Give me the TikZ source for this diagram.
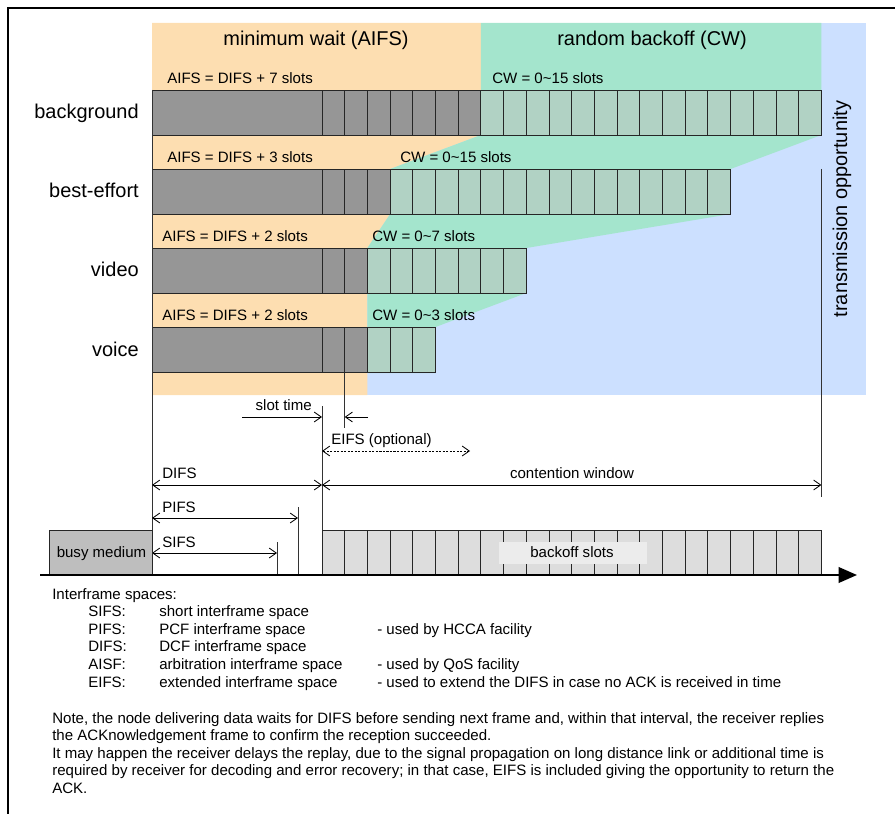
\documentclass[tikz,border=0pt]{standalone}
\usepackage{fontspec}
\setmainfont{Liberation Sans}
\usetikzlibrary{arrows.meta}

\definecolor{waitbg}{RGB}{253,222,177}
\definecolor{cwbg}{RGB}{164,229,205}
\definecolor{txopbg}{RGB}{204,224,255}
\definecolor{aifsslot}{RGB}{150,150,150}
\definecolor{cwslot}{RGB}{177,210,196}
\definecolor{busygray}{RGB}{190,190,190}
\definecolor{idlegray}{RGB}{221,221,221}
\definecolor{boxgray}{RGB}{236,236,236}

\tikzset{
  head/.style={font=\fontsize{14.2}{17}\selectfont, anchor=base, inner sep=0pt},
  rowname/.style={font=\fontsize{14.2}{17}\selectfont, anchor=base east, inner sep=0pt},
  lbl/.style={font=\fontsize{10.7}{13}\selectfont, anchor=base west, inner sep=0pt},
  legend/.style={font=\fontsize{10.7}{12.8}\selectfont, anchor=base west, inner sep=0pt},
  slotline/.style={line width=0.7pt, draw=black!85},
  marker/.style={line width=0.7pt, draw=black!80},
  dim/.style={line width=0.6pt, {Straight Barb[length=5pt,width=7pt]}-{Straight Barb[length=5pt,width=7pt]}},
  half/.style={line width=0.6pt, -{Straight Barb[length=5pt,width=7pt]}}
}

\begin{document}
\begin{tikzpicture}[x=0.025cm, y=-0.025cm] % one unit = one pixel of the original
	\useasboundingbox (0,0) rectangle (895,814);
	
	% slot width and end of DIFS
	\def\s{22.7}
	\def\difs{322}
	\pgfmathsetmacro{\aBg}{\difs+7*\s}
	\pgfmathsetmacro{\aBe}{\difs+3*\s}
	\pgfmathsetmacro{\aVi}{\difs+2*\s}
	\pgfmathsetmacro{\cBg}{\aBg+15*\s}
	\pgfmathsetmacro{\cBe}{\aBe+15*\s}
	\pgfmathsetmacro{\cVi}{\aVi+7*\s}
	\pgfmathsetmacro{\cVo}{\aVi+3*\s}
	
	% frame
	\draw[line width=1.8pt] (8,814) -- (8,8) -- (895,8);
	
	% coloured zones: transmission opportunity, minimum wait, random backoff
	\fill[txopbg] (152,23) rectangle (866,395);
	\fill[waitbg] (152,23) -- (\aBg,23) -- (\aBg,135) -- (\aBe,169) -- (\aBe,214)
		-- (\aVi,248) -- (\aVi,395) -- (152,395) -- cycle;
	\fill[cwbg] (\aBg,23) -- (\cBg,23) -- (\cBg,135) -- (\cBe,169) -- (\cBe,214)
		-- (\cVi,248) -- (\cVi,293) -- (\cVo,327) -- (\cVo,373) -- (\aVi,373)
		-- (\aVi,248) -- (\aBe,214) -- (\aBe,169) -- (\aBg,135) -- cycle;
	
	\node[head] (wait) at (316,46) {minimum wait (AIFS)};
	\node[head] (backoff) at (652,46) {random backoff (CW)};
	
	% one bar per access category
	\foreach \row/\top/\n/\cw/\ax/\cx in {background/90/7/15/167/492, best-effort/169/3/15/167/400,
		video/248/2/7/162/372, voice/327/2/3/162/372}{
		\draw[slotline, fill=aifsslot] (152,\top) rectangle (\difs,\top+45);
		\foreach \i in {1,...,\n}
			\draw[slotline, fill=aifsslot] ({\difs+(\i-1)*\s},\top) rectangle ({\difs+\i*\s},\top+45);
		\foreach \i in {1,...,\cw}
			\draw[slotline, fill=cwslot] ({\difs+(\n+\i-1)*\s},\top) rectangle ({\difs+(\n+\i)*\s},\top+45);
		\node[rowname] (\row) at (139,\top+29) {\row};
		\node[lbl] (aifs-\row) at (\ax,\top-6.5) {AIFS = DIFS + \n{} slots};
		\node[lbl] (cw-\row) at (\cx,\top-6.5) {CW = 0\textasciitilde\cw{} slots};
	}
	
	\node[font=\fontsize{14.2}{17}\selectfont, rotate=90, inner sep=0pt] (txop) at (842,209) {transmission opportunity};
	
	% markers
	\coordinate (difs0) at (152,90);
	\coordinate (difs0b) at (152,575);
	\coordinate (slott) at ({\difs+\s},373);
	\coordinate (slotb) at ({\difs+\s},428);
	\coordinate (difs1) at (\difs,406);
	\coordinate (difs1b) at (\difs,575);
	\coordinate (pifs) at (298,507);
	\coordinate (pifsb) at (298,575);
	\coordinate (sifs) at (277,542);
	\coordinate (sifsb) at (277,575);
	\coordinate (cwend) at (\cBg,169);
	\coordinate (cwendb) at (\cBg,497);
	\foreach \a/\b in {difs0/difs0b, slott/slotb, difs1/difs1b, pifs/pifsb, sifs/sifsb, cwend/cwendb}
		\draw[marker] (\a) -- (\b);
	
	% slot time
	\coordinate (st0) at (242,417);
	\coordinate (st1) at (\difs,417);
	\coordinate (st2) at ({\difs+\s},417);
	\coordinate (st3) at (368,417);
	\draw[half] (st0) -- (st1);
	\draw[half] (st3) -- (st2);
	\node[lbl, anchor=base east] (slottime) at (312,410.5) {slot time};
	
	% EIFS
	\coordinate (eifs0) at (\difs,451);
	\coordinate (eifs1) at (470,451);
	\draw[dim, dash pattern=on 1.5pt off 1pt] (eifs0) -- (eifs1);
	\node[lbl] (eifs) at (331,444.5) {EIFS (optional)};
	
	% DIFS and contention window
	\coordinate (d0) at (152,485);
	\coordinate (d1) at (\difs,485);
	\coordinate (d2) at (\cBg,485);
	\draw[dim] (d0) -- (d1);
	\draw[dim] (d1) -- (d2);
	\node[lbl] (difs) at (162,478) {DIFS};
	\node[lbl, anchor=base] (cwin) at (572,478) {contention window};
	
	% PIFS and SIFS
	\coordinate (p0) at (152,518);
	\coordinate (p1) at (298,518);
	\coordinate (s0) at (152,553);
	\coordinate (s1) at (277,553);
	\draw[dim] (p0) -- (p1);
	\draw[dim] (s0) -- (s1);
	\node[lbl] (pifslbl) at (162,512.5) {PIFS};
	\node[lbl] (sifslbl) at (162,547) {SIFS};
	
	% medium
	\draw[slotline, fill=busygray] (49,530) rectangle (152,575);
	\node[lbl, anchor=base] (busy) at (101.5,557) {busy medium};
	\foreach \i in {1,...,22}
		\draw[slotline, fill=idlegray] ({\difs+(\i-1)*\s},530) rectangle ({\difs+\i*\s},575);
	\fill[boxgray] (499,542) rectangle (647,563.5);
	\node[lbl, anchor=base] (slots) at (572,557) {backoff slots};
	
	% time axis
	\coordinate (t0) at (40,575);
	\coordinate (t1) at (857,575);
	\draw[line width=1.5pt, -{Triangle[length=13pt,width=11pt]}] (t0) -- (t1);
	
	% legend
	\node[legend] (ifs) at (52,599) {Interframe spaces:};
	\foreach \abbr/\desc [count=\k] in {SIFS/short interframe space, PIFS/PCF interframe space,
		DIFS/DCF interframe space, AISF/arbitration interframe space, EIFS/extended interframe space}{
		\node[legend] (abbr-\k) at (88,599+\k*17.6) {\abbr:};
		\node[legend] (desc-\k) at (159,599+\k*17.6) {\desc};
	}
	\node[legend] (use-2) at (377,634.2) {- used by HCCA facility};
	\node[legend] (use-4) at (377,669.4) {- used by QoS facility};
	\node[legend] (use-5) at (377,687) {- used to extend the DIFS in case no ACK is received in time};
	
	\node[legend] (note1) at (52,723) {Note, the node delivering data waits for DIFS before sending next frame and, within that interval, the receiver replies};
	\node[legend] (note2) at (52,740.5) {the ACKnowledgement frame to confirm the reception succeeded.};
	\node[legend] (note3) at (52,758) {It may happen the receiver delays the replay, due to the signal propagation on long distance link or additional time is};
	\node[legend] (note4) at (52,775.5) {required by receiver for decoding and error recovery; in that case, EIFS is included giving the opportunity to return the};
	\node[legend] (note5) at (52,793) {ACK.};
\end{tikzpicture}
\end{document}
